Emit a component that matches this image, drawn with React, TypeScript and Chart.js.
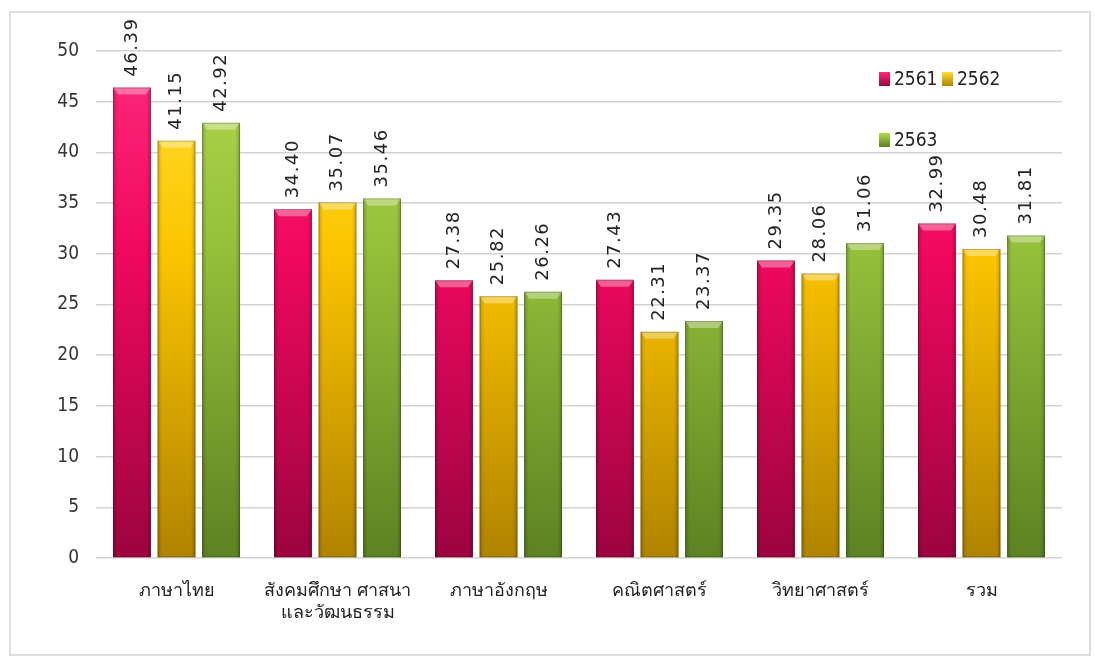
import React, { useEffect, useRef } from "react";
import { Chart, registerables } from "chart.js";

Chart.register(...registerables);

const categories: (string | string[])[] = [
  "ภาษาไทย",
  ["สังคมศึกษา ศาสนา", "และวัฒนธรรม"],
  "ภาษาอังกฤษ",
  "คณิตศาสตร์",
  "วิทยาศาสตร์",
  "รวม",
];
const seriesNames = ["2561", "2562", "2563"];
const values2561 = [46.39, 34.4, 27.38, 27.43, 29.35, 32.99];
const values2562 = [41.15, 35.07, 25.82, 22.31, 28.06, 30.48];
const values2563 = [42.92, 35.46, 26.26, 23.37, 31.06, 31.81];
const yTicks = [0, 5, 10, 15, 20, 25, 30, 35, 40, 45, 50];

const palettes = [
  { top: "#ff2a7c", mid: "#f0085e", bot: "#9c0440" },
  { top: "#ffe030", mid: "#fcc400", bot: "#b08300" },
  { top: "#b2d94e", mid: "#93bf3a", bot: "#5c8222" },
];

const FONT = '"Liberation Sans Narrow", "DejaVu Sans Condensed", Tahoma, sans-serif';

function makeGradient(chart: any, i: number) {
  const area = chart.chartArea;
  if (!area) return palettes[i].mid;
  const g = chart.ctx.createLinearGradient(0, area.top, 0, area.bottom);
  g.addColorStop(0, palettes[i].top);
  g.addColorStop(0.4, palettes[i].mid);
  g.addColorStop(1, palettes[i].bot);
  return g;
}

const labelPlugin = {
  id: "valueLabels",
  afterDatasetsDraw(chart: any) {
    const ctx = chart.ctx;
    ctx.save();
    ctx.font = '18px "DejaVu Sans", sans-serif';
    ctx.fillStyle = "#222";
    ctx.textAlign = "left";
    ctx.textBaseline = "middle";
    const spacing = 1.5;
    chart.data.datasets.forEach((ds: any, di: number) => {
      const meta = chart.getDatasetMeta(di);
      meta.data.forEach((bar: any, i: number) => {
        const v = ds.data[i] as number;
        const txt = v.toFixed(2);
        ctx.save();
        ctx.translate(bar.x, bar.y - 11);
        ctx.rotate(-Math.PI / 2);
        let x = 0;
        for (const ch of txt) {
          ctx.fillText(ch, x, 0);
          x += ctx.measureText(ch).width + spacing;
        }
        ctx.restore();
      });
    });
    ctx.restore();
  },
};

const bevelPlugin = {
  id: "bevel",
  afterDatasetsDraw(chart: any) {
    const ctx = chart.ctx;
    ctx.save();
    chart.data.datasets.forEach((_ds: any, di: number) => {
      const meta = chart.getDatasetMeta(di);
      meta.data.forEach((bar: any) => {
        const w = bar.width;
        const left = bar.x - w / 2;
        const top = bar.y;
        const h = bar.base - bar.y;
        const sg = ctx.createLinearGradient(left, 0, left + w, 0);
        sg.addColorStop(0, "rgba(0,0,0,0.2)");
        sg.addColorStop(0.12, "rgba(0,0,0,0)");
        sg.addColorStop(0.88, "rgba(0,0,0,0)");
        sg.addColorStop(1, "rgba(0,0,0,0.2)");
        ctx.fillStyle = sg;
        ctx.fillRect(left, top, w, h);
        ctx.fillStyle = "rgba(255,255,255,0.35)";
        ctx.beginPath();
        ctx.moveTo(left, top);
        ctx.lineTo(left + w, top);
        ctx.lineTo(left + w - 5, top + 7);
        ctx.lineTo(left + 5, top + 7);
        ctx.closePath();
        ctx.fill();
        ctx.strokeStyle = "rgba(0,0,0,0.22)";
        ctx.lineWidth = 1;
        ctx.strokeRect(left + 0.5, top + 0.5, w - 1, h - 1);
      });
    });
    ctx.restore();
  },
};

const legendPlugin = {
  id: "customLegend",
  afterDraw(chart: any) {
    const ctx = chart.ctx;
    const area = chart.chartArea;
    ctx.save();
    ctx.font = '19px "Liberation Sans Narrow", "DejaVu Sans Condensed", sans-serif';
    ctx.textBaseline = "middle";
    ctx.textAlign = "left";
    const x0 = area.right - 183;
    const positions = [
      { x: x0, y: area.top + 28 },
      { x: x0 + 63, y: area.top + 28 },
      { x: x0, y: area.top + 89 },
    ];
    chart.data.datasets.forEach((ds: any, i: number) => {
      const p = positions[i];
      const g = ctx.createLinearGradient(0, p.y - 7, 0, p.y + 7);
      g.addColorStop(0, palettes[i].top);
      g.addColorStop(1, palettes[i].bot);
      ctx.fillStyle = g;
      ctx.fillRect(p.x, p.y - 7, 11, 14);
      ctx.fillStyle = "#222";
      ctx.fillText(ds.label, p.x + 15, p.y + 1);
    });
    ctx.restore();
  },
};

export default function App() {
  const ref = useRef<HTMLCanvasElement | null>(null);
  useEffect(() => {
    document.body.style.margin = "0";
    const canvas = ref.current!;
    const datasetsValues = [values2561, values2562, values2563];
    const chart = new Chart(canvas, {
      type: "bar",
      data: {
        labels: categories,
        datasets: datasetsValues.map((vals, i) => ({
          label: seriesNames[i],
          data: vals,
          backgroundColor: (c: any) => makeGradient(c.chart, i),
          borderWidth: 0,
          categoryPercentage: 0.83,
          barPercentage: 0.85,
        })),
      },
      options: {
        animation: false,
        responsive: false,
        maintainAspectRatio: false,
        layout: { padding: { top: 51, right: 33, left: 0, bottom: 0 } },
        plugins: {
          legend: { display: false },
          tooltip: { enabled: false },
        },
        scales: {
          x: {
            grid: { display: false },
            border: { display: false },
            ticks: {
              color: "#222",
              font: { family: '"DejaVu Sans Condensed", Tahoma, sans-serif', size: 18 },
              padding: 15,
              maxRotation: 0,
              autoSkip: false,
            },
            afterFit: (s: any) => {
              s.height = 103;
            },
          },
          y: {
            min: 0,
            max: 50,
            afterBuildTicks: (s: any) => {
              s.ticks = yTicks.map((v) => ({ value: v }));
            },
            grid: { color: "#d2d2d2", lineWidth: 1.5, drawTicks: false },
            border: { display: false },
            ticks: {
              color: "#333",
              font: { family: FONT, size: 19 },
              padding: 17,
            },
            afterFit: (s: any) => {
              s.width = 96;
            },
          },
        },
      },
      plugins: [bevelPlugin, labelPlugin, legendPlugin],
    });
    return () => chart.destroy();
  }, []);
  return (
    <div style={{ position: "relative", width: 1095, height: 661, background: "#fff" }}>
      <div
        style={{
          position: "absolute",
          left: 9,
          top: 11,
          width: 1082,
          height: 645,
          border: "2px solid #dedede",
          boxSizing: "border-box",
        }}
      />
      <canvas ref={ref} width={1095} height={661} style={{ position: "absolute", left: 0, top: 0, width: 1095, height: 661 }} />
    </div>
  );
}
